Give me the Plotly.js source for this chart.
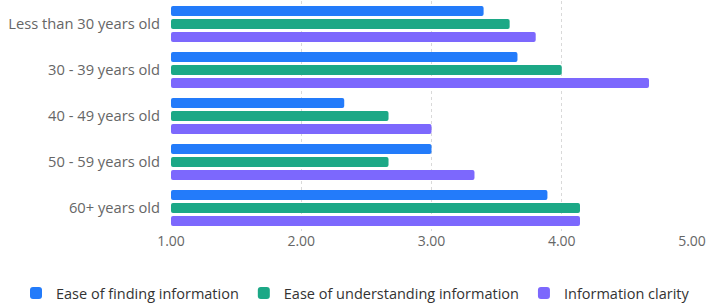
<!DOCTYPE html>
<html><head><meta charset="utf-8">
<script src="https://cdn.plot.ly/plotly-3.0.1.min.js"></script>
<style>html,body{margin:0;padding:0;background:#fff;}#chart{width:706px;height:305px;}</style>
</head><body><div id="chart"></div>
<script>
const categories = ["Less than 30 years old","30 - 39 years old","40 - 49 years old","50 - 59 years old","60+ years old"];
const easeFinding = [3.40, 3.66, 2.33, 3.00, 3.89];
const easeUnderstanding = [3.60, 4.00, 2.67, 2.67, 4.14];
const clarity = [3.80, 4.67, 3.00, 3.33, 4.14];
const seriesNames = ["Ease of finding information","Ease of understanding information","Information clarity"];
const colors = ["#237bfa","#1ca886","#7c68fd"];
const tickVals = [1,2,3,4,5];
const tickText = ["1.00","2.00","3.00","4.00","5.00"];

const series = [easeFinding, easeUnderstanding, clarity];
const data = series.map((vals, i) => ({
  type: 'bar', orientation: 'h', name: seriesNames[i],
  y: categories, x: vals.map(v => v - 1), base: 1,
  marker: {color: colors[i], cornerradius: 2},
  hoverinfo: 'skip'
}));

const layout = {
  width: 706, height: 305,
  margin: {l: 171, r: 14, t: 1, b: 74, autoexpand: false},
  barmode: 'group', bargap: 0.15, bargroupgap: 0.22,
  font: {family: 'Open Sans, sans-serif', size: 14, color: '#666'},
  xaxis: {range: [1, 5], tickvals: tickVals, ticktext: tickText, showgrid: true,
    gridcolor: '#d9d9d9', griddash: 'dot', gridwidth: 1, zeroline: false, showline: false,
    ticks: '', tickfont: {size: 14, color: '#666'}, automargin: false},
  yaxis: {autorange: 'reversed', showgrid: false, zeroline: false, showline: false, ticks: '',
    ticklabelstandoff: 10, tickfont: {size: 14.7, color: '#666'}, automargin: false},
  showlegend: true,
  legend: {orientation: 'h', x: -0.2975, xanchor: 'left',
    y: -0.27, yanchor: 'middle', font: {size: 14.5, color: '#333'}, traceorder: 'normal', itemwidth: 30},
  plot_bgcolor: '#fff', paper_bgcolor: '#fff'
};
Plotly.newPlot('chart', data, layout, {displayModeBar: false, staticPlot: true});
</script></body></html>
